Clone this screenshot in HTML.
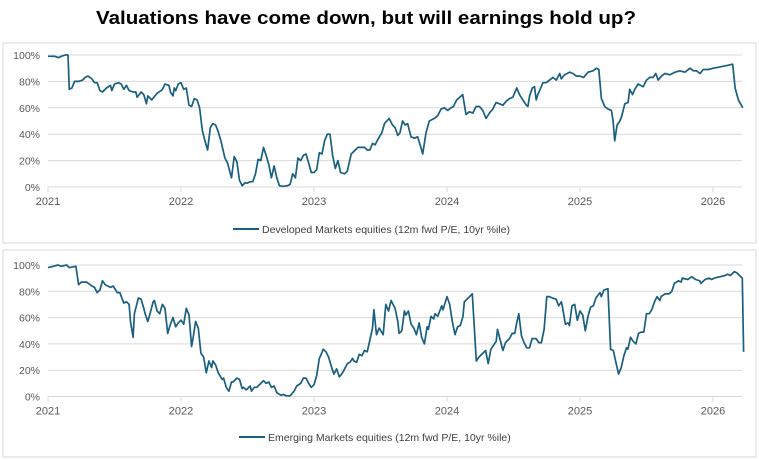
<!DOCTYPE html>
<html><head><meta charset="utf-8">
<style>
html,body{margin:0;padding:0;background:#fff;width:759px;height:460px;overflow:hidden}
svg{display:block;font-family:"Liberation Sans",sans-serif}
</style></head>
<body>
<svg id="chart" width="759" height="460" viewBox="0 0 759 460">
<text x="366" y="24" text-anchor="middle" font-size="18" font-weight="bold" fill="#000" textLength="540" lengthAdjust="spacingAndGlyphs">Valuations have come down, but will earnings hold up?</text>
<rect x="3" y="43" width="753" height="200" fill="#fff" stroke="#d9d9d9"/>
<rect x="3" y="250" width="753" height="207" fill="#fff" stroke="#d9d9d9"/>
<g id="dm"></g>
<g id="em"></g>
</svg>
<script>
// Developed Markets: years since 2021, percentile value
const dmT = [0,0.05,0.08,0.1,0.13,0.15,0.16,0.18,0.2,0.23,0.26,0.28,0.3,0.33,0.35,0.37,0.39,0.41,0.44,0.47,0.48,0.5,0.53,0.55,0.57,0.59,0.61,0.64,0.66,0.67,0.7,0.72,0.74,0.75,0.78,0.82,0.85,0.86,0.88,0.91,0.92,0.94,0.95,0.96,0.98,1.0,1.02,1.04,1.06,1.08,1.1,1.12,1.14,1.16,1.18,1.2,1.22,1.24,1.26,1.28,1.3,1.33,1.35,1.38,1.4,1.42,1.44,1.46,1.48,1.5,1.52,1.54,1.56,1.58,1.6,1.62,1.64,1.66,1.68,1.7,1.72,1.74,1.77,1.8,1.82,1.84,1.86,1.88,1.9,1.92,1.94,1.96,1.98,2.0,2.02,2.04,2.06,2.08,2.1,2.12,2.14,2.16,2.18,2.2,2.23,2.25,2.28,2.3,2.33,2.36,2.38,2.4,2.42,2.44,2.46,2.48,
2.51,2.53,2.565,2.59,2.61,2.63,2.646,2.666,2.686,2.704,2.729,2.754,2.779,2.804,2.817,2.842,2.867,2.905,2.93,2.955,2.98,3.005,3.03,3.048,3.073,3.118,3.143,3.168,3.194,3.219,3.244,3.269,3.294,3.319,3.344,3.369,3.395,3.42,3.445,3.47,3.495,3.525,3.545,3.57,3.596,3.608,3.621,3.641,3.658,3.671,3.683,3.701,3.721,3.746,3.771,3.797,3.822,3.847,3.859,3.884,3.922,3.947,3.972,3.998,4.028,4.06,4.098,4.123,4.141,4.161,4.186,4.211,4.236,4.249,4.261,4.279,4.299,4.312,4.337,4.362,4.374,4.395,4.412,4.437,4.475,4.5,4.525,4.55,4.57,4.588,4.613,4.638,4.676,4.714,4.751,4.789,4.827,4.852,4.877,4.902,4.927,4.965,5.003,5.053,5.103,5.148,5.166,5.191,5.224];
const dmV = [99,99,98,99,100,100,74,75,80,80,81,83,84,82,79,79,73,72,75,77,73,78,79,78,74,77,73,72,72,68,72,70,63,69,66,71,73,74,78,77,72,69,75,73,78,79,74,75,62,61,67,66,60,43,35,28,45,48,47,42,35,22,18,7,23,19,5,1,3,3,4,4,10,21,20,30,24,17,7,16,7,1,0.5,1,2,10,7,22,20,24,25,18,11,11,13,26,25,35,40,40,24,14,20,11,10,12,25,27,30,30,30,28,28,33,32,36,
41,48,52,47,45,39,41,50,47,48,38,37,38,30,25,41,50,52,54,59,60,58,60,61,66,70,55,57,56,61,61,58,52,56,59,64,63,62,65,67,68,75,70,66,62,61,69,75,76,66,70,74,79,79,81,83,81,86,82,85,87,86,84,84,83,87,88,90,89,67,61,59,58,50,35,47,50,53,63,64,74,70,74,78,76,81,83,83,86,81,84,86,85,87,88,87,90,88,88,86,89,89,90,91,92,93,75,66,60];
// Emerging Markets
const emT = [0,0.04,0.075,0.1,0.14,0.16,0.21,0.23,0.25,0.29,0.33,0.35,0.37,0.39,0.41,0.43,0.45,0.47,0.49,0.52,0.54,0.57,0.59,0.61,0.62,0.64,0.65,0.68,0.7,0.72,0.73,0.75,0.77,0.79,0.8,0.82,0.84,0.86,0.88,0.9,0.92,0.94,0.96,0.98,1.0,1.02,1.04,1.06,1.08,1.09,1.11,1.13,1.15,1.17,1.19,1.21,1.23,1.24,1.26,1.28,1.31,1.32,1.34,1.36,1.38,1.39,1.42,1.44,1.46,1.47,1.49,1.52,1.53,1.55,1.57,1.6,1.62,1.64,1.66,1.68,1.7,1.72,1.75,1.77,1.79,1.82,1.85,1.87,1.9,1.92,1.94,1.96,1.98,2.0,2.02,2.04,2.05,2.07,2.09,2.11,2.13,2.15,2.17,2.19,2.2,2.22,2.25,2.27,2.29,2.3,2.32,2.34,2.36,2.38,2.4,2.42,2.44,2.45,2.47,2.49,
2.52,2.54,2.56,2.58,2.61,2.63,2.64,2.66,2.68,2.69,2.71,2.73,2.75,2.77,2.79,2.81,2.83,2.85,2.86,2.88,2.9,2.91,2.93,2.96,2.97,3.0,3.02,3.04,3.06,3.08,3.1,3.12,3.13,3.16,3.19,3.22,3.24,3.27,3.29,3.31,3.33,3.35,3.37,3.38,3.4,3.42,3.44,3.47,3.49,3.51,3.52,3.54,3.56,3.58,3.6,3.62,3.64,3.67,3.69,3.71,3.73,3.75,3.77,3.79,3.82,3.84,3.86,3.87,3.89,3.91,3.92,3.94,3.96,3.98,4.0,4.02,4.04,4.06,4.08,4.1,4.12,4.15,4.16,4.18,4.21,4.23,4.25,4.27,4.29,4.31,4.33,4.35,4.36,4.38,4.4,4.42,4.44,4.46,4.48,4.5,4.52,4.54,4.56,4.58,4.6,4.61,4.64,4.67,4.69,4.71,4.74,4.76,4.77,4.81,4.84,4.87,4.9,4.91,4.94,4.97,4.99,5.01,5.05,5.09,5.11,5.13,5.16,5.18,5.21,5.22,5.23];
const emV = [98,99,100,99,100,98,99,85,87,87,84,83,79,81,88,85,84,83,84,79,79,71,72,70,57,45,63,75,74,67,63,57,64,72,73,65,63,70,67,48,55,60,53,56,58,55,67,62,38,44,57,52,33,30,18,27,22,27,24,18,13,14,7,4,11,11,14,13,6,7,5,8,4,7,7,10,12,10,11,7,8,3,1,1.5,0.5,0.5,4,8,10,14,14,10,7,9,16,29,31,36,34,30,23,17,21,15,16,19,25,26,29,27,26,32,31,35,34,43,52,66,47,52,
47,70,65,73,67,57,48,50,65,62,65,55,52,47,56,45,40,53,51,61,59,63,61,69,66,76,70,57,47,53,54,61,72,75,78,27,30,33,35,25,36,39,42,51,43,35,41,44,48,48,54,63,46,41,37,37,44,44,41,41,51,76,76,75,74,69,72,67,55,56,54,69,70,58,65,62,50,61,68,69,75,79,76,81,82,36,35,26,17,22,31,37,36,45,42,40,48,49,49,63,63,66,72,76,73,76,78,78,80,86,88,87,90,89,91,89,88,86,89,90,89,90,91,92,93,92,95,94,91,90,34];
const yTicks = [0,20,40,60,80,100];
const xTickYears = [2021,2022,2023,2024,2025,2026];

const NS='http://www.w3.org/2000/svg';
function mk(tag,attrs,parent){const e=document.createElementNS(NS,tag);for(const k in attrs)e.setAttribute(k,attrs[k]);parent.appendChild(e);return e;}
const xMin=0, xPx0=48, pxPerYear=133;
function xs(t){return xPx0+(t-xMin)*pxPerYear;}

function drawPanel(g,T,V,y0,yPerPct,legendX,legendY,legendText,prefix){
  const ys=v=>y0-v*yPerPct;
  const xEnd=742;
  yTicks.forEach(v=>{
    const l=mk('line',{x1:xs(0),x2:xEnd,y1:ys(v),y2:ys(v),stroke:'#d9d9d9','stroke-width':1},g);
    
    
    const t=mk('text',{x:40,y:ys(v)+4,'text-anchor':'end','font-size':10.5,fill:'#595959'},g);
    t.textContent=v+'%';
    
    
  });
  xTickYears.forEach(yr=>{
    const x=xs(yr-2021);
    const tk=mk('line',{x1:x,x2:x,y1:y0,y2:y0+5,stroke:'#d9d9d9'},g);
    
    
    const t=mk('text',{x:x,y:y0+18,'text-anchor':'middle','font-size':11,fill:'#595959'},g);
    t.textContent=yr;
    
    
  });
  let d='';
  T.forEach((t,i)=>{d+=(i?'L':'M')+xs(t).toFixed(1)+' '+ys(V[i]).toFixed(1);});
  const p=mk('path',{d:d,fill:'none',stroke:'#1a5f7f','stroke-width':1.7,'stroke-linejoin':'round'},g);
  
  
  const ll=mk('line',{x1:legendX,x2:legendX+26,y1:legendY,y2:legendY,stroke:'#1a5f7f','stroke-width':2},g);
  
  
  const lt=mk('text',{x:legendX+29,y:legendY+4,'font-size':10.5,fill:'#404040'},g);
  lt.textContent=legendText;
  
  
}
drawPanel(document.getElementById('dm'),dmT,dmV,187,1.32,233,229,'Developed Markets equities (12m fwd P/E, 10yr %ile)','dm');
drawPanel(document.getElementById('em'),emT,emV,396.5,1.315,239,437,'Emerging Markets equities (12m fwd P/E, 10yr %ile)','em');
</script>
</body></html>
